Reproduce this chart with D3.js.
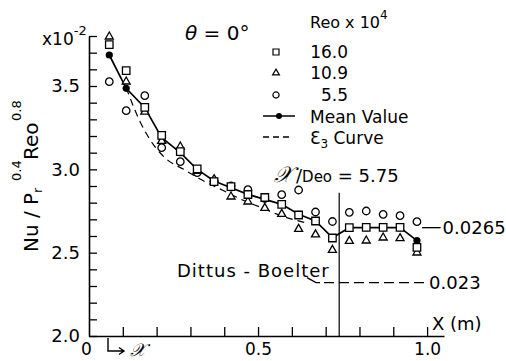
<!DOCTYPE html>
<html>
<head>
<meta charset="utf-8">
<script src="https://cdn.jsdelivr.net/npm/d3@7"></script>
<style>
  body { margin: 0; background: #fff; }
  svg { display: block; }
  text { font-family: "DejaVu Sans", sans-serif; fill: #000; }
</style>
</head>
<body>
<svg id="chart" width="506" height="361"></svg>
<script>
// Axial stations X (m)
const stations = [0.06, 0.11, 0.165, 0.215, 0.27, 0.32, 0.37, 0.42, 0.47, 0.52,
                  0.57, 0.62, 0.67, 0.72, 0.77, 0.82, 0.87, 0.92, 0.97];
// Nu / Pr^0.4 Reo^0.8  (x 10^-2)
const re160 = [3.748, 3.592, 3.372, 3.204, 3.106, 3.003, 2.926, 2.896, 2.849, 2.831,
               2.790, 2.726, 2.690, 2.588, 2.650, 2.652, 2.652, 2.652, 2.532];
const re109 = [3.796, 3.526, 3.345, 3.170, 3.136, 2.990, 2.940, 2.836, 2.806, 2.768,
               2.732, 2.642, 2.609, 2.516, 2.570, 2.572, 2.590, 2.586, 2.500];
const re55  = [3.526, 3.352, 3.442, 3.130, 3.046, 2.980, 2.930, 2.900, 2.878, 2.830,
               2.848, 2.876, 2.744, 2.687, 2.742, 2.750, 2.730, 2.722, 2.686];
const meanValue = [3.686, 3.486, 3.370, 3.190, 3.100, 3.000, 2.930, 2.890, 2.850, 2.820,
                   2.790, 2.730, 2.690, 2.590, 2.650, 2.650, 2.650, 2.650, 2.572];
// Epsilon-3 curve
const e3X = [0.11, 0.15, 0.19, 0.23, 0.28, 0.33, 0.40, 0.45, 0.51, 0.57, 0.64];
const e3Y = [3.49, 3.29, 3.15, 3.06, 3.00, 2.94, 2.87, 2.82, 2.77, 2.72, 2.68];
// Dittus-Boelter level and its extent
const dittusX = [0.695, 1.0];
const dittusY = 2.32;
// Fully developed mean level (0.0265)
const fdX = [0.985, 1.04];
const fdY = 2.65;
// x/Deo = 5.75 station
const xDeoStation = 0.74;
const xDeoTop = 2.86;

const xTicks = [0, 0.1, 0.2, 0.3, 0.4, 0.5, 0.6, 0.7, 0.8, 0.9, 1.0];
const xTickLabels = {0: "0", 0.5: "0.5", 1.0: "1.0"};
const yTicks = [2.0, 2.1, 2.2, 2.3, 2.4, 2.5, 2.6, 2.7, 2.8, 2.9, 3.0,
                3.1, 3.2, 3.3, 3.4, 3.5, 3.6, 3.7, 3.8];
const yTickLabels = {2.0: "2.0", 2.5: "2.5", 3.0: "3.0", 3.5: "3.5"};

const svg = d3.select("#chart");
const x = d3.scaleLinear().domain([0, 1.05]).range([89, 444]);
const y = d3.scaleLinear().domain([2.0, 3.8]).range([336, 36]);

// Axes with inward ticks
const gy = svg.append("g").attr("transform", `translate(${x(0)},0)`)
  .call(d3.axisLeft(y).tickValues(yTicks).tickSize(-8).tickSizeOuter(0).tickPadding(9)
    .tickFormat(d => yTickLabels[Math.round(d * 10) / 10] || ""));
const gx = svg.append("g").attr("transform", `translate(0,${y(2.0)})`)
  .call(d3.axisBottom(x).tickValues(xTicks).tickSize(-9).tickSizeOuter(0).tickPadding(7)
    .tickFormat(d => xTickLabels[Math.round(d * 10) / 10] || ""));
[gx, gy].forEach(g => {
  g.select(".domain").attr("stroke", "#000").attr("stroke-width", 1.6);
  g.selectAll(".tick line").attr("stroke", "#000").attr("stroke-width", 1.3);
  g.selectAll(".tick text").style("font-size", "18px").attr("fill", "#000");
});
gx.selectAll(".tick text").style("font-size", "17px");
gx.selectAll(".tick").filter(d => d === 0).select("line").remove();
gx.selectAll(".tick").filter(d => d === 0).select("text").attr("dx", "-3");

// Axis scale factor
const sc = svg.append("text").attr("x", 42).attr("y", 45).style("font-size", "17px");
sc.append("tspan").text("x10");
sc.append("tspan").attr("dy", -10).style("font-size", "13px").text("-2");

// Y-axis title
const yt = svg.append("g").attr("transform", "translate(38,252) rotate(-90)");
yt.append("text").attr("x", 0).attr("y", 0).style("font-size", "20px").text("Nu / P");
yt.append("text").attr("x", 59).attr("y", 4).style("font-size", "13px").text("r");
yt.append("text").attr("x", 71).attr("y", -17).style("font-size", "13px").text("0.4");
yt.append("text").attr("x", 92).attr("y", 0).style("font-size", "20px").text("Reo");
yt.append("text").attr("x", 131).attr("y", -17).style("font-size", "13px").text("0.8");

// X-axis title
svg.append("text").attr("x", 432).attr("y", 330).style("font-size", "18px").text("X (m)");

// Flow-direction marker under the axis
svg.append("path").attr("d", "M108,338 V351 H124 M119,347.5 L124,351 L119,354.5")
  .attr("fill", "none").attr("stroke", "#000").attr("stroke-width", 1.4);
svg.append("text").attr("x", 130).attr("y", 356).style("font-size", "18px")
  .style("font-style", "italic").style("font-family", "'DejaVu Serif', serif").text("𝒳");

// Angle label
svg.append("text").attr("x", 185).attr("y", 40).style("font-size", "20px")
  .html('<tspan style="font-style:italic">θ</tspan> = 0°');

// x/Deo = 5.75 station line
svg.append("line")
  .attr("x1", x(xDeoStation)).attr("x2", x(xDeoStation))
  .attr("y1", y(2.0)).attr("y2", y(xDeoTop))
  .attr("stroke", "#000").attr("stroke-width", 1.2);
const xd = svg.append("text").attr("x", 274).attr("y", 182).style("font-size", "18px");
xd.append("tspan").style("font-family", "'DejaVu Serif', serif").style("font-style", "italic")
  .style("font-size", "22px").text("𝒳");
xd.append("tspan").attr("dx", 3).text("/");
xd.append("tspan").style("font-size", "15px").text("Deo");
xd.append("tspan").text(" = 5.75");

// Dittus-Boelter level
svg.append("line")
  .attr("x1", x(dittusX[0])).attr("x2", x(dittusX[1]))
  .attr("y1", y(dittusY)).attr("y2", y(dittusY))
  .attr("stroke", "#000").attr("stroke-width", 1.3).attr("stroke-dasharray", "10,5");
svg.append("path").attr("d", `M307,${y(dittusY) - 5} L316,${y(dittusY)} H320`)
  .attr("fill", "none").attr("stroke", "#000").attr("stroke-width", 1.3);
svg.append("text").attr("x", 177).attr("y", 277).style("font-size", "18px")
  .style("letter-spacing", "1px").text("Dittus - Boelter");
svg.append("text").attr("x", x(dittusX[1]) + 2).attr("y", y(dittusY) + 6.5)
  .style("font-size", "18px").text("0.023");

// Fully developed level
svg.append("line")
  .attr("x1", x(fdX[0])).attr("x2", x(fdX[1]))
  .attr("y1", y(fdY)).attr("y2", y(fdY))
  .attr("stroke", "#000").attr("stroke-width", 1.3);
svg.append("text").attr("x", x(fdX[1]) + 2).attr("y", y(fdY) + 6.5)
  .style("font-size", "18px").text("0.0265");

// Epsilon-3 curve
const e3 = e3X.map((v, i) => [v, e3Y[i]]);
svg.append("path").datum(e3)
  .attr("d", d3.line().x(d => x(d[0])).y(d => y(d[1])).curve(d3.curveMonotoneX))
  .attr("fill", "none").attr("stroke", "#000").attr("stroke-width", 1.2)
  .attr("stroke-dasharray", "7,5");

// Mean value line with dots
const mean = stations.map((v, i) => [v, meanValue[i]]);
svg.append("path").datum(mean)
  .attr("d", d3.line().x(d => x(d[0])).y(d => y(d[1])))
  .attr("fill", "none").attr("stroke", "#000").attr("stroke-width", 1.7);
svg.append("g").selectAll("circle").data(mean).join("circle")
  .attr("cx", d => x(d[0])).attr("cy", d => y(d[1])).attr("r", 3.6).attr("fill", "#000");

// Open markers
function markers(vals, type, size) {
  svg.append("g").selectAll("path").data(stations.map((v, i) => [v, vals[i]])).join("path")
    .attr("transform", d => `translate(${x(d[0])},${y(d[1])})`)
    .attr("d", d3.symbol().type(type).size(size))
    .attr("fill", "#fff").attr("stroke", "#000").attr("stroke-width", 1.3);
}
markers(re55, d3.symbolCircle, 44);
markers(re109, d3.symbolTriangle, 28);
markers(re160, d3.symbolSquare, 56);

// Legend
const lg = svg.append("g");
const lt = lg.append("text").attr("x", 310).attr("y", 28).style("font-size", "16px");
lt.append("tspan").text("Reo x 10");
lt.append("tspan").attr("dy", -9).style("font-size", "12px").text("4");
const legendRows = [
  {sym: d3.symbolSquare, size: 36, label: "16.0", y: 52},
  {sym: d3.symbolTriangle, size: 20, label: "10.9", y: 73},
  {sym: d3.symbolCircle, size: 30, label: "5.5", y: 95}
];
legendRows.forEach(r => {
  lg.append("path").attr("transform", `translate(276,${r.y})`)
    .attr("d", d3.symbol().type(r.sym).size(r.size))
    .attr("fill", "#fff").attr("stroke", "#000").attr("stroke-width", 1.2);
  lg.append("text").attr("x", 348).attr("y", r.y + 6).attr("text-anchor", "end")
    .style("font-size", "17px").text(r.label);
});
lg.append("line").attr("x1", 263).attr("x2", 295).attr("y1", 116).attr("y2", 116)
  .attr("stroke", "#000").attr("stroke-width", 1.5);
lg.append("circle").attr("cx", 279).attr("cy", 116).attr("r", 3).attr("fill", "#000");
lg.append("text").attr("x", 310).attr("y", 123).style("font-size", "17px").text("Mean Value");
lg.append("line").attr("x1", 263).attr("x2", 293).attr("y1", 137).attr("y2", 137)
  .attr("stroke", "#000").attr("stroke-width", 1.3).attr("stroke-dasharray", "6,4");
const et = lg.append("text").attr("x", 310).attr("y", 144).style("font-size", "17px");
et.append("tspan").text("Ɛ");
et.append("tspan").attr("dy", 4).style("font-size", "12px").text("3");
et.append("tspan").attr("dy", -4).text(" Curve");
</script>
</body>
</html>
